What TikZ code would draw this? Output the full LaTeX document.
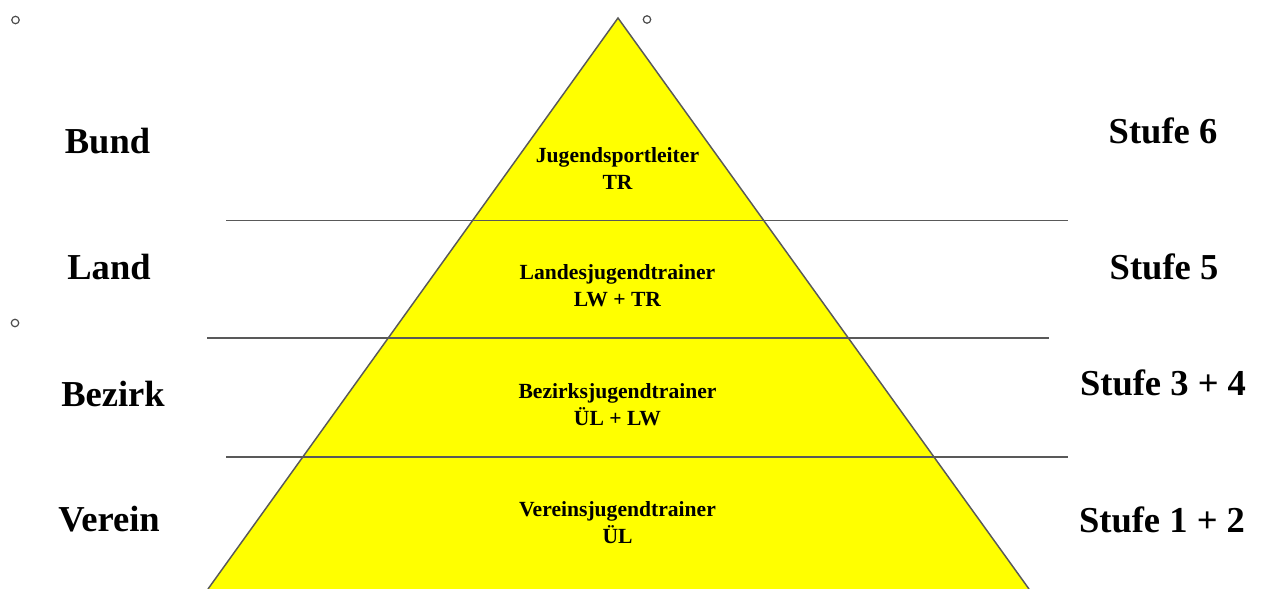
\documentclass[tikz,border=0pt]{standalone}
\usepackage{fontspec}
\setmainfont{Liberation Serif}
\usetikzlibrary{calc}
\definecolor{pyellow}{RGB}{255,255,0}

\tikzset{
  level/.style={font=\bfseries\fontsize{27.4}{32}\selectfont, anchor=base, inner sep=0pt},
  rank/.style={font=\bfseries\fontsize{16.2}{20.25}\selectfont, align=center, inner sep=0pt},
  rule/.style={draw=black!65, line width=1.1pt},
  handle/.style={draw=black!70, line width=0.9pt, fill=white},
}

\begin{document}
\begin{tikzpicture}[x=0.75pt,y=-0.75pt]
    \useasboundingbox (0,0) rectangle (1261,589);
    \coordinate (A) at (618,18);
    \coordinate (B) at (208,589);
    \coordinate (C) at (1029,589);
    \fill[pyellow] (A) -- (B) -- (C) -- cycle;
    \draw[rule] (B) -- (A) -- (C);

    % level separators
    \coordinate (L1w) at (226,220.7);  \coordinate (L1e) at (1068,220.7);
    \coordinate (L2w) at (207,338);    \coordinate (L2e) at (1049,338);
    \coordinate (L3w) at (226,457);    \coordinate (L3e) at (1068,457);
    \draw[rule] (L1w) -- (L1e);
    \draw[rule] (L2w) -- (L2e);
    \draw[rule] (L3w) -- (L3e);

    \node[rank] (jsl) at (617.5,169) {Jugendsportleiter\\TR};
    \node[rank] (ljt) at (617.5,286) {Landesjugendtrainer\\LW + TR};
    \node[rank] (bjt) at (617.5,405) {Bezirksjugendtrainer\\ÜL + LW};
    \node[rank] (vjt) at (617.5,523) {Vereinsjugendtrainer\\ÜL};

    \node[level] (bund)   at (107.5,153) {Bund};
    \node[level] (land)   at (109,279)   {Land};
    \node[level] (bezirk) at (113,406)   {Bezirk};
    \node[level] (verein) at (109,531)   {Verein};

    \node[level] (s6)  at (1163,143) {Stufe 6};
    \node[level] (s5)  at (1164,279) {Stufe 5};
    \node[level] (s34) at (1163,395) {Stufe 3 + 4};
    \node[level] (s12) at (1162,532) {Stufe 1 + 2};

    % selection handles
    \draw[handle] (15.5,20) circle[radius=2.8pt];
    \draw[handle] (647,19.5) circle[radius=2.8pt];
    \draw[handle] (15,323) circle[radius=2.8pt];
\end{tikzpicture}
\end{document}
